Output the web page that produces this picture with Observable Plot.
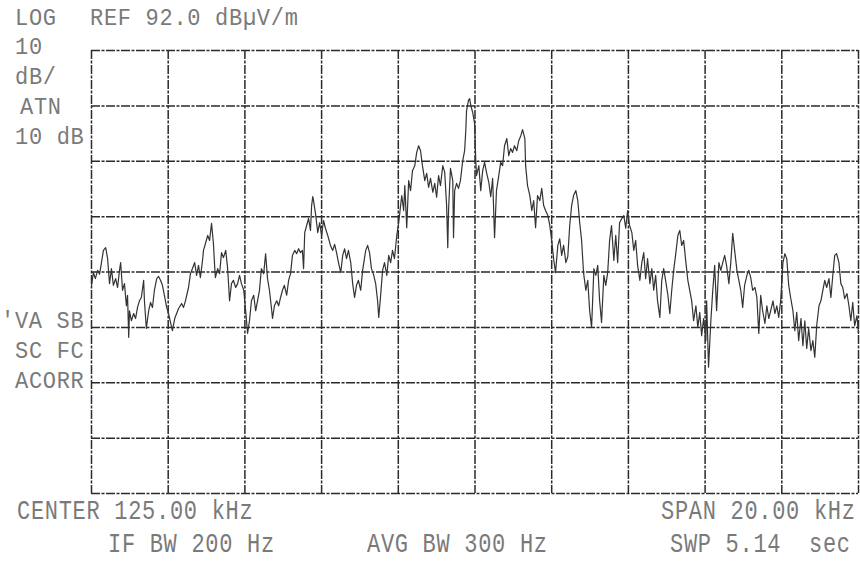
<!DOCTYPE html>
<html><head><meta charset="utf-8">
<script src="https://cdn.jsdelivr.net/npm/d3@7"></script>
<script src="https://cdn.jsdelivr.net/npm/@observablehq/plot@0.6"></script>
<style>
body{margin:0;background:#fff;}
#wrap{position:relative;width:860px;height:563px;overflow:hidden;background:#fff;}
#wrap svg{position:absolute;left:0;top:0;}
.t{position:absolute;font-family:"Liberation Mono",monospace;font-size:22px;letter-spacing:0.7px;line-height:1;color:#7a7a7a;white-space:pre;transform:scaleY(1.12);transform-origin:0 0;}
.t.big{transform:scaleY(1.25);}
</style></head><body><div id="wrap"></div>
<script>
// Analyzer settings (as printed on the screen)
const refLevel = 92;      // dBµV/m, top of screen
const dbPerDiv = 10;
const centerKHz = 125;
const spanKHz = 20;

// Graticule positions
const freqGrid = [115,117,119,121,123,125,127,129,131,133,135];
const levelGrid = [12,22,32,42,52,62,72,82,92];

// Trace: frequency (kHz) and level (dBµV/m)
const freqKHz = [
115.00,115.05,115.10,115.16,115.21,115.26,115.31,115.37,115.42,115.47,
115.52,115.57,115.63,115.68,115.73,115.76,115.81,115.86,115.91,115.94,
115.97,115.99,116.04,116.10,116.15,116.20,116.25,116.30,116.36,116.38,
116.43,116.49,116.54,116.59,116.64,116.70,116.75,116.80,116.85,116.90,
116.96,117.01,117.06,117.11,117.17,117.22,117.27,117.35,117.40,117.45,
117.53,117.58,117.63,117.69,117.74,117.79,117.84,117.90,117.92,117.97,
118.03,118.08,118.13,118.18,118.21,118.23,118.29,118.34,118.39,118.44,
118.50,118.55,118.60,118.65,118.70,118.76,118.81,118.86,118.91,118.97,
119.02,119.07,119.12,119.17,119.23,119.28,119.33,119.38,119.43,119.49,
119.54,119.59,119.64,119.70,119.72,119.77,119.83,119.88,119.93,119.98,
120.03,120.09,120.14,120.19,120.24,120.30,120.35,120.40,120.45,120.50,
120.53,120.56,120.61,120.66,120.71,120.74,120.77,120.79,120.84,120.90,
120.95,121.00,121.05,121.10,121.16,121.23,121.29,121.34,121.39,121.44,
121.50,121.55,121.60,121.65,121.70,121.76,121.81,121.86,121.91,121.96,
122.02,122.07,122.15,122.20,122.25,122.30,122.36,122.41,122.46,122.49,
122.54,122.59,122.64,122.70,122.75,122.80,122.85,122.90,122.96,123.01,
123.06,123.09,123.14,123.17,123.22,123.27,123.32,123.37,123.43,123.48,
123.53,123.58,123.63,123.69,123.74,123.79,123.84,123.90,123.95,124.00,
124.05,124.10,124.16,124.21,124.26,124.29,124.31,124.36,124.42,124.44,
124.47,124.52,124.57,124.62,124.68,124.73,124.76,124.78,124.83,124.86,
124.89,124.94,124.99,125.02,125.04,125.10,125.15,125.20,125.25,125.30,
125.36,125.41,125.46,125.51,125.56,125.62,125.67,125.72,125.77,125.83,
125.88,125.93,125.98,126.03,126.09,126.14,126.19,126.24,126.30,126.32,
126.37,126.43,126.48,126.53,126.58,126.63,126.69,126.74,126.79,126.84,
126.90,126.95,127.00,127.05,127.10,127.16,127.21,127.26,127.31,127.37,
127.42,127.47,127.52,127.57,127.63,127.68,127.73,127.78,127.83,127.89,
127.94,127.99,128.04,128.10,128.15,128.20,128.25,128.30,128.36,128.41,
128.46,128.51,128.56,128.62,128.67,128.72,128.77,128.83,128.88,128.93,
128.98,129.03,129.09,129.14,129.19,129.24,129.30,129.35,129.40,129.45,
129.50,129.56,129.61,129.66,129.71,129.76,129.82,129.87,129.92,129.97,
130.03,130.08,130.13,130.18,130.23,130.29,130.34,130.39,130.44,130.50,
130.55,130.60,130.65,130.70,130.76,130.81,130.86,130.91,130.96,131.02,
131.04,131.09,131.15,131.20,131.25,131.30,131.36,131.41,131.46,131.51,
131.56,131.62,131.67,131.72,131.77,131.83,131.88,131.93,131.98,132.03,
132.09,132.14,132.19,132.24,132.30,132.35,132.40,132.45,132.50,132.56,
132.61,132.66,132.71,132.77,132.82,132.87,132.92,132.97,133.03,133.08,
133.13,133.18,133.23,133.29,133.34,133.39,133.44,133.50,133.55,133.60,
133.65,133.70,133.76,133.81,133.86,133.91,133.97,134.02,134.07,134.12,
134.17,134.23,134.28,134.33,134.38,134.43,134.49,134.54,134.59,134.64,
134.70,134.75,134.80,134.85,134.90,134.96,135.00
];
const levelDb = [
49.6,51.9,50.8,52.3,51.6,53.7,55.9,56.4,54.4,49.9,
52.6,49.6,50.8,49.2,52.3,53.7,48.7,49.9,45.9,47.8,
40.2,45.0,43.2,44.5,43.6,45.6,46.8,47.4,50.5,46.8,
41.8,45.0,46.5,45.6,48.7,50.8,51.2,50.5,49.6,47.8,
45.6,44.5,42.9,41.4,43.6,44.5,45.4,46.3,45.6,46.8,
49.2,51.7,52.6,53.7,51.4,53.2,51.0,54.4,55.9,57.1,
58.6,57.7,60.8,57.1,53.2,51.0,52.6,51.7,55.5,54.6,
55.9,52.6,46.8,49.9,50.5,49.2,49.9,51.4,49.9,48.7,
45.0,40.9,43.2,46.8,47.8,45.0,46.8,48.7,52.6,51.7,
55.3,50.8,48.7,45.0,43.6,45.9,46.8,45.9,47.4,48.7,
49.6,47.8,50.5,51.7,55.0,55.9,55.3,56.2,55.5,55.9,
52.6,59.1,60.4,61.7,59.5,64.0,65.6,64.9,62.6,59.1,
60.9,58.6,61.3,59.9,58.6,56.8,55.9,57.0,55.5,53.7,
51.9,55.0,56.2,54.4,55.9,53.7,49.9,47.4,49.6,50.5,
48.7,52.3,55.9,56.8,55.5,52.6,51.4,49.9,46.8,43.8,
47.8,52.3,53.7,51.4,55.0,53.7,55.9,54.4,58.6,60.9,
64.0,65.8,63.1,67.6,60.0,68.5,66.7,70.3,71.2,73.6,
74.8,73.9,71.2,68.5,69.8,67.3,68.9,66.4,68.0,65.5,
69.4,67.6,71.2,70.0,64.0,56.4,63.1,70.7,68.5,58.2,
66.7,68.0,67.1,68.5,72.1,73.9,77.6,81.2,83.0,83.3,
82.1,80.8,78.8,72.1,69.4,71.2,66.7,70.3,71.8,70.0,
68.2,65.6,68.9,58.2,66.7,69.4,71.8,71.2,74.8,76.1,
73.0,74.3,73.6,74.8,73.9,75.7,76.5,77.7,76.1,71.2,
67.6,65.8,63.1,64.9,60.0,65.8,64.9,67.1,64.0,63.1,
62.2,60.4,57.7,54.4,51.9,56.8,58.0,55.0,56.8,53.7,
54.8,60.4,64.0,65.8,66.7,64.9,60.9,57.7,51.9,48.7,
50.5,45.0,42.0,52.6,51.4,53.2,46.8,42.9,51.4,49.6,
51.9,57.7,60.4,54.1,58.6,53.7,60.9,61.7,62.2,59.9,
63.1,60.4,59.1,55.9,57.7,53.2,50.5,53.7,55.5,50.8,
54.4,49.9,52.6,48.7,51.4,46.8,43.8,50.5,52.6,50.5,
47.8,44.5,48.7,52.3,55.0,58.6,59.5,56.8,57.7,53.7,
50.5,48.7,46.8,43.2,45.9,42.0,44.7,40.5,43.6,39.6,
46.8,34.8,43.2,48.7,53.2,45.0,53.7,52.3,53.7,55.0,
53.2,49.9,53.7,59.0,55.9,52.3,50.5,48.7,45.6,49.6,
51.4,52.3,51.0,48.7,49.2,47.4,40.9,47.8,45.0,42.7,
45.9,43.6,45.0,46.8,44.5,45.9,43.8,46.8,53.7,55.3,
54.4,49.6,47.4,45.0,41.4,44.7,39.6,43.6,38.7,43.2,
38.2,41.8,37.8,39.6,36.6,42.3,45.9,46.8,48.7,50.5,
49.2,50.8,47.4,51.4,55.0,55.3,53.7,49.9,49.2,47.2,
48.1,45.9,43.2,46.5,42.3,44.1,40.9
];

// Screen annotations
const labels = [
  {text:"LOG", left:15, top:7},
  {text:"REF 92.0 dBµV/m", left:90, top:7},
  {text:"10", left:15, top:36},
  {text:"dB/", left:15, top:66},
  {text:"ATN", left:20, top:96},
  {text:"10 dB", left:15, top:126},
  {text:"'VA SB", left:1, top:310},
  {text:"SC FC", left:15, top:340},
  {text:"ACORR", left:15, top:370},
  {text:"CENTER 125.00 kHz", left:17, top:499, big:true},
  {text:"IF BW 200 Hz", left:108, top:532, big:true},
  {text:"AVG BW 300 Hz", left:367, top:532, big:true},
  {text:"SPAN 20.00 kHz", left:661, top:499, big:true},
  {text:"SWP 5.14  sec", left:670, top:532, big:true}
];

const traceData = freqKHz.map((f, i) => ({f, level: levelDb[i]}));

const chart = Plot.plot({
  width: 860, height: 563,
  marginLeft: 91, marginRight: 2, marginTop: 50, marginBottom: 70,
  x: {domain: [centerKHz - spanKHz/2, centerKHz + spanKHz/2], axis: null},
  y: {domain: [refLevel - 8*dbPerDiv, refLevel], axis: null},
  style: {background: "#fff"},
  marks: [
    Plot.ruleY(levelGrid, {stroke: "#2a2a2a", strokeWidth: 1.5, strokeDasharray: "9,1.5,3,1.5"}),
    Plot.ruleX(freqGrid, {stroke: "#2a2a2a", strokeWidth: 1.5, strokeDasharray: "9,1.5,3,1.5"}),
    Plot.line(traceData, {x: "f", y: "level", stroke: "#333", strokeWidth: 1.2})
  ]
});

const wrap = document.getElementById("wrap");
wrap.appendChild(chart);
for (const l of labels) {
  const d = document.createElement("div");
  d.className = l.big ? "t big" : "t";
  d.textContent = l.text;
  d.style.left = l.left + "px";
  d.style.top = l.top + "px";
  wrap.appendChild(d);
}
</script></body></html>
